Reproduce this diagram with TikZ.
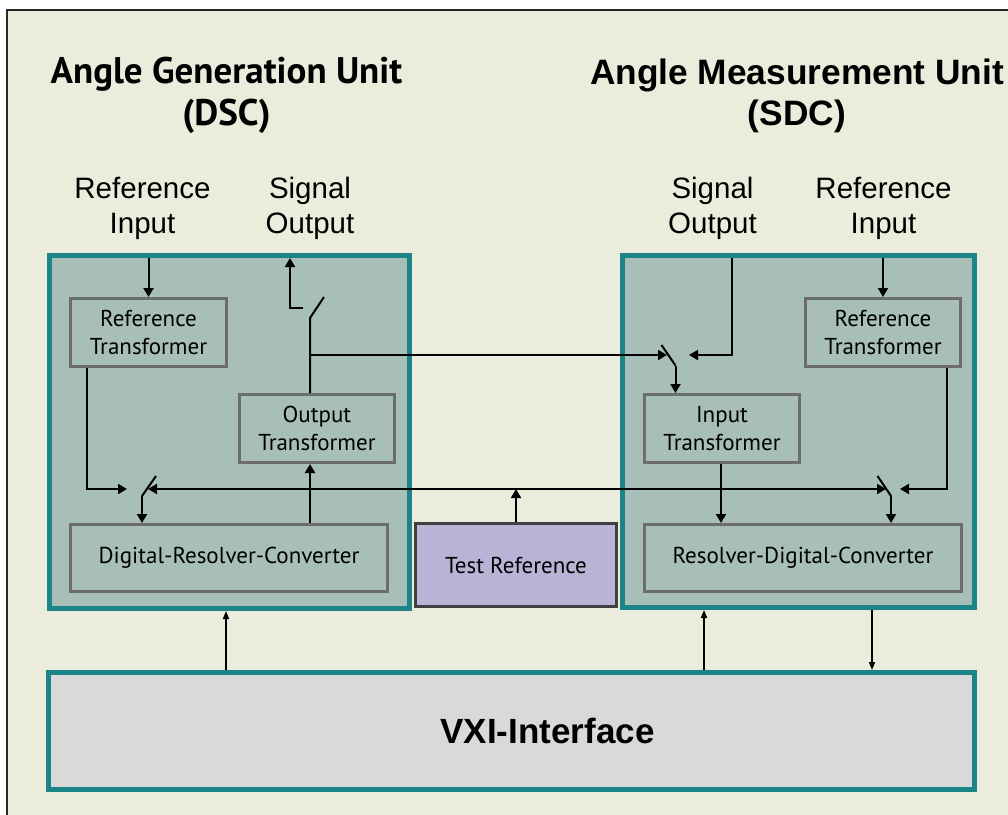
\documentclass[tikz,border=0pt]{standalone}
\usepackage{fontspec}
\setmainfont{Liberation Sans}
\newfontfamily\boxfont{PT Sans}
\usetikzlibrary{arrows.meta}

\definecolor{bgbeige}{HTML}{ECECDC}
\definecolor{unitfill}{HTML}{A7BFB8}
\definecolor{unitteal}{HTML}{1A8486}
\definecolor{blockgray}{HTML}{6D6D6D}
\definecolor{testfill}{HTML}{B9B3D6}
\definecolor{testline}{HTML}{404040}
\definecolor{vxifill}{HTML}{D9D9D9}

\tikzset{
  unit/.style={draw=unitteal, line width=5pt, fill=unitfill, inner sep=0pt},
  block/.style={draw=blockgray, line width=3pt, fill=unitfill, inner sep=0pt, align=center,
    font=\boxfont\fontsize{23}{28}\selectfont},
  io/.style={align=center, inner sep=0pt, font=\fontsize{29.5}{35}\selectfont},
  wire/.style={line width=2pt, -{Triangle[length=9pt,width=10pt]}},
  wireboth/.style={line width=2pt, {Triangle[length=9pt,width=10pt]}-{Triangle[length=9pt,width=10pt]}},
  blade/.style={line width=2pt},
  thinwire/.style={line width=1.5pt, -{Triangle[length=8pt,width=6pt]}}
}

\begin{document}
\begin{tikzpicture}[x=1pt,y=-1pt]
\clip (0,0) rectangle (1008,814);
\useasboundingbox (0,0) rectangle (1008,814);
% background and frame
\fill[white] (0,0) rectangle (1008,814);
\fill[bgbeige] (7,10) rectangle (1012,818);
\draw[line width=2.5pt, black!85] (7,818) -- (7,10) -- (1012,10);

% titles and terminals
\node[align=center, inner sep=0pt, font=\boxfont\bfseries\fontsize{37}{42}\selectfont] (genT) at (226.5,95.5) {Angle Generation Unit\\(DSC)};
\node[align=center, inner sep=0pt, font=\bfseries\fontsize{35.3}{41}\selectfont] (measT) at (797,96) {Angle Measurement Unit\\(SDC)};
\node[io] (refinL) at (142.5,208) {Reference\\Input};
\node[io] (sigoutL) at (310,208) {Signal\\Output};
\node[io] (sigoutR) at (712.5,208) {Signal\\Output};
\node[io] (refinR) at (883.5,208) {Reference\\Input};

% units
\node[unit, minimum width=360pt, minimum height=353pt] (unitL) at (229.5,432) {};
\node[unit, minimum width=352pt, minimum height=352pt] (unitR) at (798.5,431.5) {};

% blocks
\node[block, minimum width=156pt, minimum height=68pt] (refL) at (148.5,332.5) {Reference\\Transformer};
\node[block, minimum width=155pt, minimum height=68pt] (outT) at (317,428.5) {Output\\Transformer};
\node[block, minimum width=317pt, minimum height=67pt] (drc) at (229,558) {Digital-Resolver-Converter};
\node[block, minimum width=155pt, minimum height=68pt] (refR) at (883,332.5) {Reference\\Transformer};
\node[block, minimum width=155pt, minimum height=68pt] (inT) at (722,428.5) {Input\\Transformer};
\node[block, minimum width=317pt, minimum height=67pt] (rdc) at (803,558) {Resolver-Digital-Converter};
\node[block, draw=testline, fill=testfill, minimum width=201pt, minimum height=83pt] (testref) at (516,565) {Test Reference};
\node[unit, fill=vxifill, minimum width=926pt, minimum height=117pt] (vxi) at (511.5,731) {};
\node[inner sep=0pt, font=\bfseries\fontsize{35}{42}\selectfont] (vxilbl) at (547.5,730.5) {VXI-Interface};

% switch points
\coordinate (swO) at (310,318);
\coordinate (swOtip) at (324,297);
\coordinate (sigLstub) at (303,308);
\coordinate (sigLend) at (290,258);
\coordinate (swL) at (142,496);
\coordinate (swLtip) at (156,476);
\coordinate (refLin) at (127,489);
\coordinate (busL) at (148,489);
\coordinate (busR) at (886,489);
\coordinate (swR) at (891,496);
\coordinate (swRtip) at (877.5,476);
\coordinate (refRin) at (900,489);
\coordinate (swI) at (675.5,365.5);
\coordinate (swItip) at (661.5,345);
\coordinate (swIin) at (667,355);
\coordinate (sigRin) at (689,355);
\coordinate (sigRtop) at (732,258);

% DSC side
\draw[wire, shorten <=5pt] (refL.north |- unitL.north) -- (refL.north);
\draw[wire] ([xshift=-61.5pt]refL.south) |- (refLin);
\draw[blade] (swL) -- (swLtip);
\draw[wire] (swL) -- (swL |- drc.north);
\draw[wire] (drc.north -| swO) -- (outT.south -| swO);
\draw[blade] (outT.north -| swO) -- (swO) -- (swOtip);
\draw[wire] (sigLstub) -| (sigLend);
\draw[wire] (swO |- swIin) -- (swIin);

% test reference bus
\draw[wireboth] (busL) -- (busR);
\draw[wire] (testref.north) -- (testref.north |- busL);

% SDC side
\draw[blade] (swItip) -- (swI);
\draw[wire] (swI) -- (swI |- inT.north);
\draw[wire] (sigRtop) |- (sigRin);
\draw[wire] ([xshift=-1pt]inT.south) -- ([xshift=-1pt]inT.south |- rdc.north);
\draw[wire, shorten <=5pt] (refR.north |- unitR.north) -- (refR.north);
\draw[wire] ([xshift=63.5pt]refR.south) |- (refRin);
\draw[blade] (swRtip) -- (swR);
\draw[wire] (swR) -- (swR |- rdc.north);

% VXI links
\coordinate (vxiA) at (226,670);
\coordinate (vxiB) at (704,670);
\coordinate (vxiC) at (872,670);
\draw[thinwire] (vxiA) -- (vxiA |- unitL.south);
\draw[thinwire] (vxiB) -- (vxiB |- unitR.south);
\draw[thinwire] (vxiC |- unitR.south) -- (vxiC);
\end{tikzpicture}
\end{document}
